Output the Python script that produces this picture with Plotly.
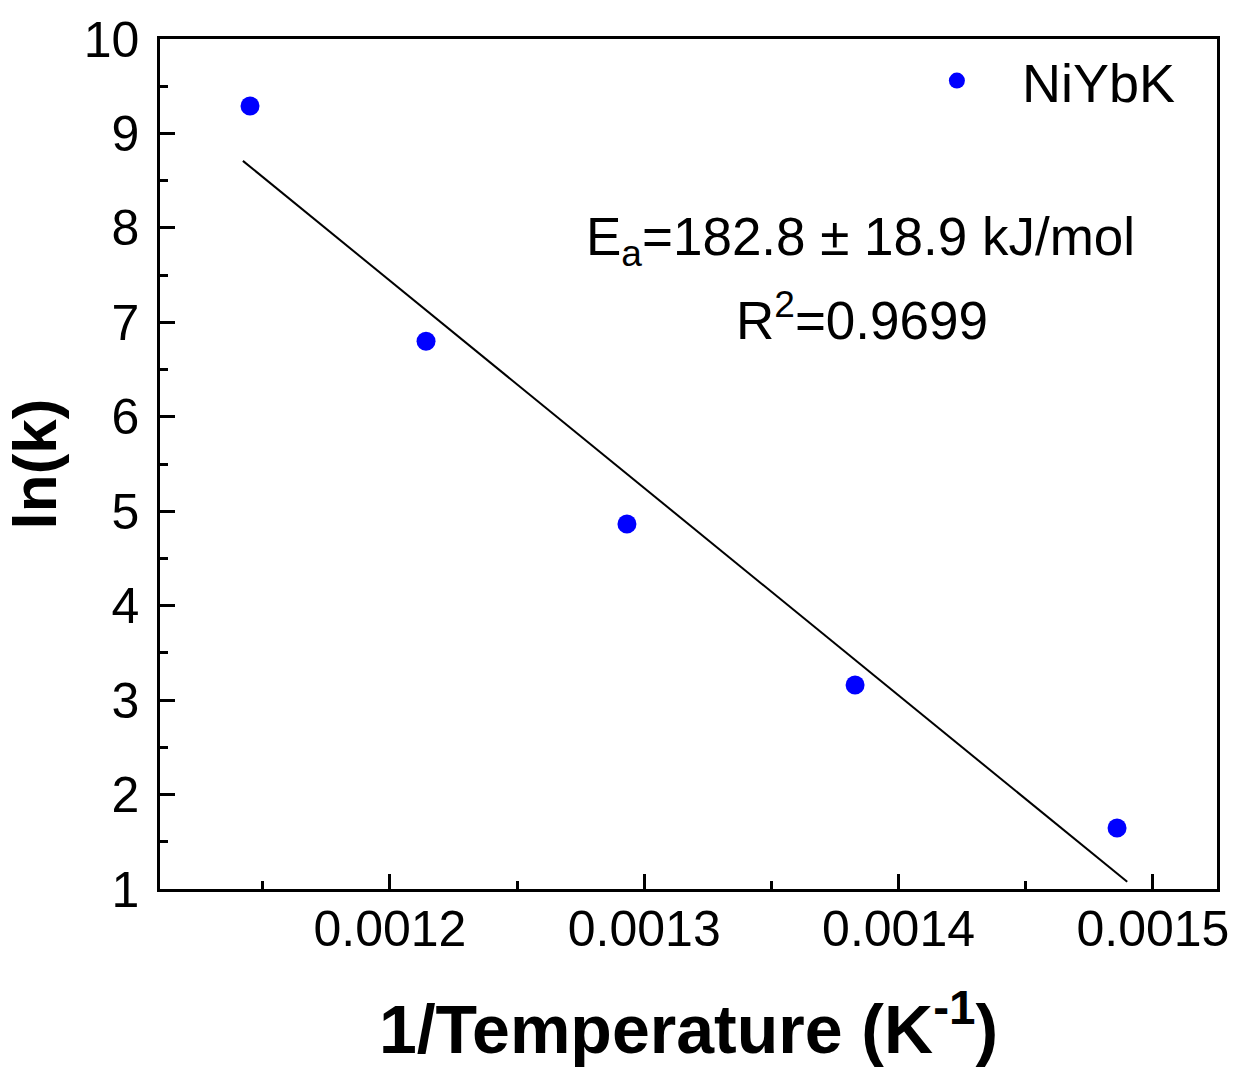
import numpy as np
import plotly.graph_objects as go

# Arrhenius data for the NiYbK catalyst
inv_temperature = [0.001145, 0.0012142, 0.0012932, 0.0013829, 0.0014859]  # 1/T (K^-1)
ln_k = [9.29, 6.80, 4.865, 3.16, 1.646]

series_name = "NiYbK"
ea_text = "E<sub>a</sub>=182.8 ± 18.9 kJ/mol"
r2_text = "R<sup>2</sup>=0.9699"

x_ticks = [0.0012, 0.0013, 0.0014, 0.0015]
x_ticklabels = ["0.0012", "0.0013", "0.0014", "0.0015"]
y_ticks = list(range(1, 11))

# linear fit of ln(k) against 1/T
slope, intercept = np.polyfit(inv_temperature, ln_k, 1)
fit_x = np.array([0.0011422, 0.0014899])
fit_y = slope * fit_x + intercept

FONT = "Arial, Liberation Sans, Helvetica, sans-serif"

fig = go.Figure()
fig.add_trace(go.Scatter(
    x=fit_x, y=fit_y, mode="lines",
    line=dict(color="black", width=2),
    showlegend=False, hoverinfo="skip",
))
fig.add_trace(go.Scatter(
    x=inv_temperature, y=ln_k, mode="markers", name="   " + series_name,
    marker=dict(color="#0000FF", size=19, symbol="circle"),
))

axis_common = dict(
    showline=True, linecolor="black", linewidth=2.5, mirror=True,
    ticks="inside", ticklen=15, tickwidth=2.5, tickcolor="black",
    showgrid=False, zeroline=False, automargin=False,
    tickfont=dict(family=FONT, size=50, color="black"),
)

fig.update_layout(
    width=1241, height=1067,
    margin=dict(l=160, r=24, t=39, b=178),
    paper_bgcolor="white", plot_bgcolor="white",
    xaxis=dict(
        range=[0.0011096, 0.0015252],
        tickvals=x_ticks, ticktext=x_ticklabels,
        minor=dict(ticks="inside", ticklen=8, tickwidth=2.5, tickcolor="black", dtick=0.00005, tick0=0.0012),
        ticklabelstandoff=-6,
        title=dict(text="1/Temperature (K<sup>-1</sup>)", standoff=50,
                   font=dict(family=FONT, size=68, color="black", weight="bold")),
        **axis_common,
    ),
    yaxis=dict(
        range=[1, 10],
        tickvals=y_ticks,
        minor=dict(ticks="inside", ticklen=8, tickwidth=2.5, tickcolor="black", dtick=0.5, tick0=1),
        ticklabelstandoff=8,
        title=dict(text="ln(k)", standoff=8,
                   font=dict(family=FONT, size=62, color="black", weight="bold")),
        **axis_common,
    ),
    legend=dict(
        x=0.735, y=1.0, xanchor="left", yanchor="top",
        bgcolor="rgba(0,0,0,0)",
        font=dict(family=FONT, size=54, color="black"),
    ),
)

# text labels placed by pixel position inside the plot frame
plot_left, plot_right, plot_top, plot_bottom = 160, 1217, 39, 889
def to_paper(px, py):
    return ((px - plot_left) / (plot_right - plot_left),
            (plot_bottom - py) / (plot_bottom - plot_top))

ax, ay = to_paper(860, 205)
fig.add_annotation(x=ax, y=ay, xref="paper", yref="paper", text=ea_text,
                   showarrow=False, font=dict(family=FONT, size=53, color="black"))
bx, by = to_paper(862, 281)
fig.add_annotation(x=bx, y=by, xref="paper", yref="paper", text=r2_text,
                   showarrow=False, font=dict(family=FONT, size=53, color="black"))

fig.write_html("out.html")
